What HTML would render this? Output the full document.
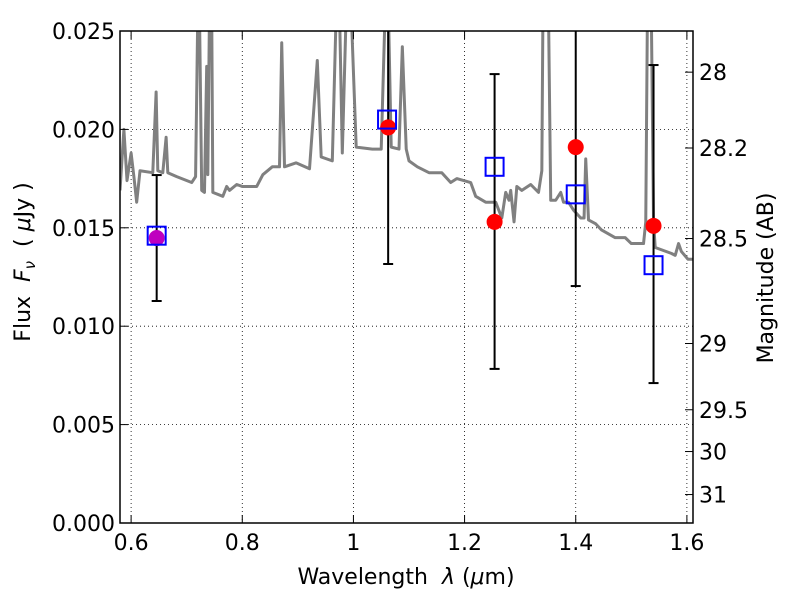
<!DOCTYPE html>
<html><head><meta charset="utf-8"><style>
body{margin:0;background:#fff;}
svg{font-family:"DejaVu Sans","Liberation Sans",sans-serif;}
text{white-space:pre;}
</style></head><body>
<svg id="chart" width="800" height="600" viewBox="0 0 800 600" xmlns="http://www.w3.org/2000/svg"></svg>
<script>
const specLam=[0.58,0.587,0.5926,0.600,0.605,0.610,0.616,0.639,0.645,0.648,0.657,0.663,0.666,0.682,0.709,0.716,0.720,0.723,0.727,0.732,0.736,0.738,0.741,0.745,0.747,0.765,0.772,0.777,0.79,0.80,0.826,0.837,0.854,0.867,0.871,0.876,0.897,0.921,0.935,0.942,0.962,0.969,0.975,0.980,0.987,0.996,1.005,1.034,1.05,1.057,1.063,1.068,1.082,1.088,1.095,1.100,1.115,1.136,1.159,1.175,1.186,1.211,1.220,1.238,1.256,1.267,1.274,1.280,1.283,1.289,1.294,1.303,1.319,1.333,1.339,1.341,1.351,1.355,1.364,1.373,1.378,1.387,1.396,1.409,1.415,1.418,1.423,1.436,1.446,1.471,1.489,1.500,1.522,1.526,1.529,1.536,1.540,1.543,1.572,1.579,1.585,1.590,1.602,1.612];
const specFlux=[0.0169,0.0200,0.0174,0.0188,0.0176,0.0163,0.0179,0.0178,0.0219,0.0179,0.0178,0.0196,0.0178,0.0176,0.0173,0.0176,0.0260,0.0260,0.0169,0.0168,0.0232,0.0177,0.0260,0.0260,0.0168,0.0166,0.0171,0.0169,0.0172,0.0171,0.0171,0.0177,0.0181,0.0181,0.0244,0.0181,0.0183,0.0180,0.0235,0.0186,0.0184,0.0260,0.0260,0.0188,0.0260,0.0260,0.0191,0.0190,0.0190,0.0260,0.0260,0.0191,0.0190,0.0242,0.0190,0.0184,0.0181,0.0178,0.0178,0.0173,0.0175,0.0173,0.0166,0.0163,0.0163,0.0155,0.0168,0.0164,0.0169,0.0153,0.0171,0.0169,0.0172,0.0168,0.0179,0.0260,0.0260,0.0164,0.0164,0.0168,0.0163,0.0163,0.0159,0.0155,0.0155,0.0185,0.0154,0.0152,0.0149,0.0145,0.0145,0.0142,0.0142,0.0153,0.0260,0.0260,0.0153,0.0140,0.0137,0.0136,0.0142,0.0138,0.0134,0.0134];
const photLam=[0.646,1.0625,1.254,1.40,1.54];
const photFlux=[0.01448,0.0201,0.0153,0.0191,0.0151];
const modelLam=[0.646,1.0605,1.254,1.40,1.54];
const modelFlux=[0.0146,0.0205,0.0181,0.0167,0.0131];
const errLo=[0.01128,0.01316,0.00783,0.01204,0.00711];
const errHi=[0.01768,0.0290,0.02281,0.0290,0.02327];
const xTicks=[0.6,0.8,1.0,1.2,1.4,1.6];
const xTickLabels=["0.6","0.8","1","1.2","1.4","1.6"];
const yTicks=[0,0.005,0.010,0.015,0.020,0.025];
const yTickLabels=["0.000","0.005","0.010","0.015","0.020","0.025"];
const magTicks=[28,28.2,28.5,29,29.5,30,31];
const magTickLabels=["28","28.2","28.5","29","29.5","30","31"];

const L=120,R=693,T=31,B=523,X0=0.58,X1=1.611,Y0=0,Y1=0.025;
const sx=v=>L+(v-X0)/(X1-X0)*(R-L);
const sy=v=>B-(v-Y0)/(Y1-Y0)*(B-T);
const NS="http://www.w3.org/2000/svg";
const svg=document.getElementById('chart');
function mk(tag,attrs,parent){const e=document.createElementNS(NS,tag);for(const k in attrs)e.setAttribute(k,attrs[k]);(parent||svg).appendChild(e);return e;}
const defs=mk('defs',{});const cp=mk('clipPath',{id:'clip'},defs);mk('rect',{x:L,y:T,width:R-L,height:B-T},cp);

const grid=mk('g',{stroke:'#000','stroke-width':0.8,'stroke-dasharray':'1,3'});


xTicks.forEach(v=>mk('line',{x1:sx(v),x2:sx(v),y1:T,y2:B},grid));
yTicks.forEach(v=>mk('line',{x1:L,x2:R,y1:sy(v),y2:sy(v)},grid));

const plot=mk('g',{'clip-path':'url(#clip)'});
const sp=mk('polyline',{points:specLam.map((l,i)=>sx(l)+','+sy(specFlux[i])).join(' '),fill:'none',stroke:'#808080','stroke-width':3,'stroke-linejoin':'round'},plot);



photLam.forEach((l,i)=>{
 const g=mk('g',{stroke:'#000','stroke-width':2},plot);
 
 
 const x=sx(l);
 mk('line',{x1:x,x2:x,y1:sy(errLo[i]),y2:sy(errHi[i])},g);
 mk('line',{x1:x-5,x2:x+5,y1:sy(errLo[i]),y2:sy(errLo[i])},g);
 mk('line',{x1:x-5,x2:x+5,y1:sy(errHi[i]),y2:sy(errHi[i])},g);
});
photLam.forEach((l,i)=>{
 const c=mk('circle',{cx:sx(l),cy:sy(photFlux[i]),r:8,fill:i===0?'#bf00bf':'#ff0000'},plot);
 
 
});
modelLam.forEach((l,i)=>{
 const s=mk('rect',{x:sx(l)-9,y:sy(modelFlux[i])-9,width:18,height:18,fill:'none',stroke:'#0000ff','stroke-width':2},plot);
 
 
});

const fr=mk('rect',{x:L,y:T,width:R-L,height:B-T,fill:'none',stroke:'#000','stroke-width':1.5});



const xa=mk('g',{});


xTicks.forEach((v,i)=>{
 mk('line',{x1:sx(v),x2:sx(v),y1:B,y2:B-8,stroke:'#000'},xa);
 mk('line',{x1:sx(v),x2:sx(v),y1:T,y2:T+8,stroke:'#000'},xa);
 const t=mk('text',{x:sx(v),y:B+27,'text-anchor':'middle','font-size':22},xa);t.textContent=xTickLabels[i];
});
const xt=mk('text',{x:406,y:584,'text-anchor':'middle','font-size':22});


xt.innerHTML='Wavelength  <tspan font-style="italic">λ</tspan> (<tspan font-style="italic">μ</tspan>m)';

const ya=mk('g',{});


yTicks.forEach((v,i)=>{
 mk('line',{x1:L,x2:L+8,y1:sy(v),y2:sy(v),stroke:'#000'},ya);
 const t=mk('text',{x:L-5,y:sy(v)+8,'text-anchor':'end','font-size':22},ya);t.textContent=yTickLabels[i];
});
const yt=mk('text',{x:0,y:0,'text-anchor':'middle','font-size':22,transform:'translate(30,262) rotate(-90)'});


yt.innerHTML='Flux  <tspan font-style="italic">F</tspan><tspan font-style="italic" font-size="15" dy="5">ν</tspan><tspan dy="-5">  ( </tspan><tspan font-style="italic">μ</tspan>Jy )';

const ma=mk('g',{});


magTicks.forEach((m,i)=>{
 const f=Math.pow(10,(23.9-m)/2.5);const y=sy(f);
 mk('line',{x1:R,x2:R-8,y1:y,y2:y,stroke:'#000'},ma);
 const t=mk('text',{x:R+6,y:y+8,'font-size':22},ma);t.textContent=magTickLabels[i];
});
const mt=mk('text',{x:0,y:0,'text-anchor':'middle','font-size':22,transform:'translate(773,278) rotate(-90)'});


mt.textContent='Magnitude (AB)';
</script>
</body></html>
